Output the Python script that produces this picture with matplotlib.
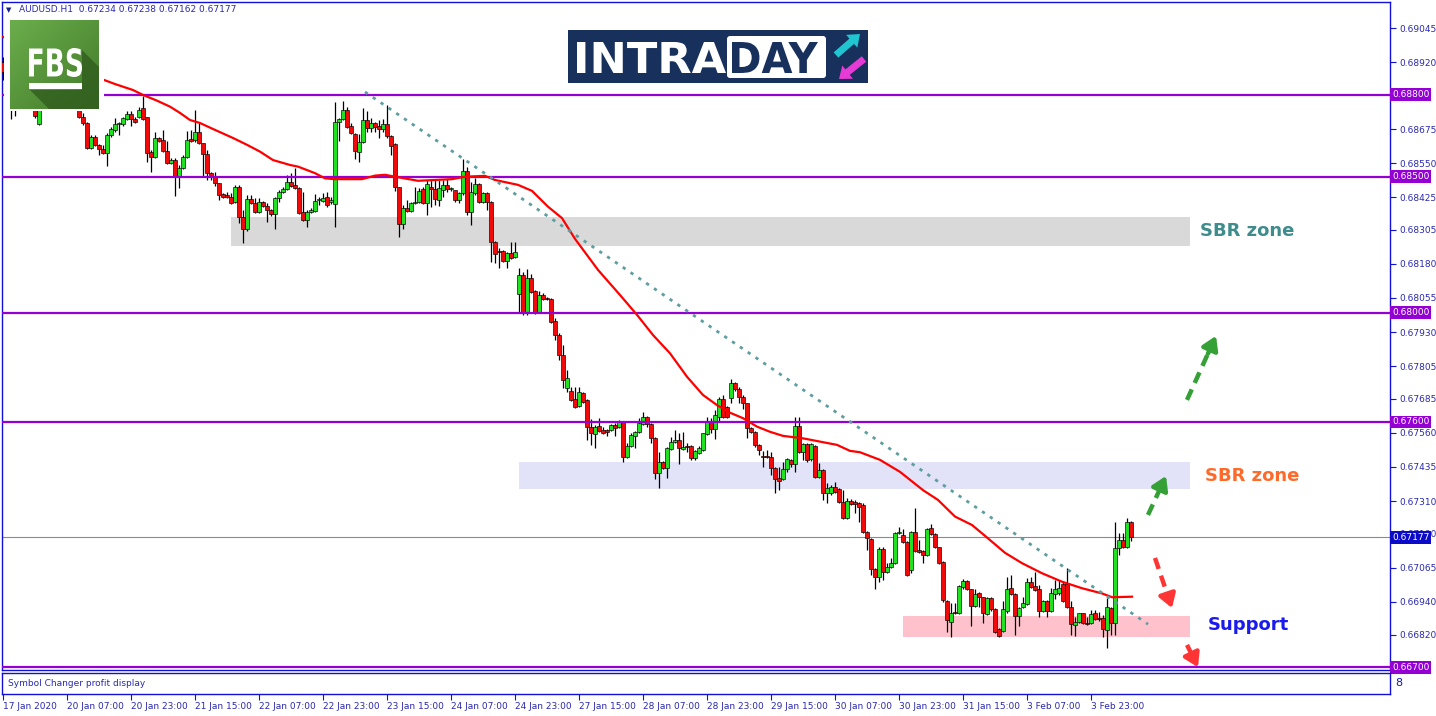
import numpy as np
import matplotlib
matplotlib.use("Agg")
import matplotlib.pyplot as plt
from matplotlib.patches import Rectangle, Polygon, FancyArrow, FancyBboxPatch, PathPatch
from matplotlib.textpath import TextPath
from matplotlib.font_manager import FontProperties
from matplotlib.transforms import Affine2D

plt.rcParams["font.family"] = ["DejaVu Sans"]

W, H = 1436, 716

# ---- data (AUDUSD H1) ----
symbol = "AUDUSD.H1"
last_ohlc = [0.67234, 0.67238, 0.67162, 0.67177]

opens = [
    .68921, .68892, .68863, .68782, .68800, .68826, .68807, .68786, .68767, .68693,
    .68767, .68789, .68775, .68796, .68811, .68792, .68807, .68786, .68764, .68767,
    .68719, .68697, .68606, .68646, .68617, .68602, .68587, .68654, .68672, .68693,
    .68693, .68712, .68730, .68712, .68719, .68753, .68719, .68591, .68572, .68642,
    .68635, .68594, .68550, .68561, .68499, .68532, .68572, .68639, .68635, .68665,
    .68624, .68583, .68514, .68503, .68477, .68436, .68433, .68426, .68407, .68462,
    .68352, .68308, .68418, .68404, .68371, .68407, .68393, .68378, .68363, .68422,
    .68444, .68455, .68481, .68470, .68459, .68371, .68341, .68371, .68374, .68415,
    .68411, .68426, .68407, .68400, .68701, .68712, .68745, .68686, .68657, .68591,
    .68628, .68708, .68679, .68697, .68686, .68675, .68693, .68650, .68620, .68462,
    .68327, .68385, .68374, .68404, .68407, .68455, .68404, .68462, .68455, .68415,
    .68451, .68470, .68455, .68451, .68415, .68440, .68521, .68371, .68440, .68473,
    .68407, .68440, .68407, .68261, .68227, .68227, .68191, .68220, .68205, .68070,
    .68140, .68000, .68128, .68081, .68004, .68066, .68055, .68051, .67971, .67919,
    .67846, .67725, .67714, .67684, .67659, .67706, .67681, .67582, .67556, .67585,
    .67571, .67571, .67571, .67589, .67582, .67600, .67472, .67512, .67549, .67563,
    .67593, .67618, .67593, .67541, .67413, .67453, .67431, .67501, .67527, .67534,
    .67501, .67512, .67512, .67468, .67486, .67497, .67556, .67600, .67574, .67618,
    .67684, .67655, .67688, .67743, .67721, .67692, .67670, .67578, .67563, .67516,
    .67475, .67475, .67472, .67431, .67395, .67391, .67428, .67461, .67446, .67585,
    .67490, .67519, .67464, .67512, .67398, .67424, .67340, .67340, .67361, .67354,
    .67306, .67248, .67310, .67306, .67303, .67295, .67196, .67171, .67061, .67031,
    .67134, .67050, .67068, .67083, .67193, .67185, .67160, .67057, .67196, .67130,
    .67127, .67112, .67211, .67189, .67141, .67086, .66943, .66866, .66903, .66899,
    .66995, .67017, .66987, .66925, .66973, .66958, .66895, .66954, .66914, .66840,
    .66833, .66906, .66991, .66969, .66888, .66921, .66932, .67013, .66998, .66987,
    .66906, .66943, .66906, .66969, .66973, .67006, .67006, .66921, .66855, .66866,
    .66899, .66862, .66862, .66899, .66881, .66881, .66837, .66917, .66862, .67138,
    .67167, .67141, .67234,
]
highs = [
    .68939, .68910, .68874, .68818, .68840, .68844, .68826, .68803, .68782, .68782,
    .68803, .68811, .68818, .68833, .68826, .68822, .68818, .68796, .68792, .68782,
    .68734, .68701, .68654, .68654, .68620, .68617, .68661, .68682, .68716, .68701,
    .68719, .68741, .68741, .68719, .68756, .68796, .68719, .68598, .68665, .68646,
    .68672, .68631, .68568, .68568, .68543, .68580, .68668, .68672, .68745, .68697,
    .68624, .68598, .68518, .68518, .68477, .68440, .68444, .68440, .68470, .68470,
    .68378, .68433, .68433, .68422, .68422, .68411, .68404, .68382, .68426, .68451,
    .68462, .68507, .68514, .68532, .68462, .68444, .68378, .68385, .68436, .68426,
    .68440, .68444, .68426, .68775, .68716, .68778, .68756, .68697, .68661, .68657,
    .68753, .68741, .68716, .68701, .68708, .68712, .68764, .68654, .68624, .68462,
    .68396, .68415, .68407, .68462, .68459, .68462, .68488, .68488, .68488, .68488,
    .68488, .68492, .68462, .68451, .68444, .68565, .68536, .68481, .68495, .68477,
    .68444, .68444, .68411, .68264, .68238, .68231, .68224, .68261, .68261, .68165,
    .68150, .68161, .68143, .68084, .68081, .68073, .68059, .68055, .67982, .67927,
    .67883, .67791, .67728, .67728, .67728, .67710, .67684, .67611, .67589, .67615,
    .67582, .67574, .67593, .67596, .67607, .67604, .67523, .67560, .67567, .67615,
    .67637, .67622, .67596, .67545, .67490, .67457, .67508, .67545, .67571, .67560,
    .67563, .67523, .67516, .67497, .67512, .67560, .67618, .67615, .67644, .67692,
    .67699, .67659, .67758, .67747, .67728, .67699, .67670, .67582, .67567, .67519,
    .67494, .67497, .67490, .67435, .67435, .67453, .67468, .67464, .67618, .67618,
    .67523, .67523, .67523, .67516, .67450, .67428, .67376, .67369, .67380, .67358,
    .67350, .67321, .67317, .67314, .67306, .67303, .67200, .67174, .67064, .67141,
    .67141, .67083, .67101, .67196, .67215, .67207, .67163, .67200, .67284, .67167,
    .67130, .67211, .67226, .67193, .67141, .67090, .66947, .66936, .66936, .67002,
    .67024, .67020, .66987, .66987, .66976, .66958, .66958, .66958, .66917, .66844,
    .66943, .67031, .67039, .66973, .66921, .66958, .67028, .67031, .67050, .67002,
    .66947, .66947, .66991, .67020, .67020, .67013, .67064, .66943, .66884, .66899,
    .66899, .66884, .66910, .66910, .66903, .66892, .66954, .66921, .67233, .67193,
    .67193, .67248, .67238,
]
lows = [
    .68855, .68837, .68712, .68723, .68782, .68789, .68767, .68753, .68716, .68690,
    .68753, .68760, .68764, .68782, .68778, .68771, .68767, .68753, .68749, .68716,
    .68690, .68602, .68602, .68613, .68580, .68583, .68539, .68646, .68665, .68654,
    .68686, .68708, .68686, .68697, .68716, .68708, .68554, .68518, .68569, .68628,
    .68591, .68546, .68546, .68429, .68459, .68528, .68569, .68628, .68628, .68620,
    .68499, .68488, .68488, .68466, .68415, .68422, .68422, .68400, .68404, .68330,
    .68257, .68301, .68400, .68367, .68367, .68389, .68334, .68356, .68308, .68407,
    .68440, .68451, .68462, .68455, .68363, .68337, .68316, .68367, .68371, .68396,
    .68407, .68389, .68400, .68316, .68631, .68708, .68679, .68657, .68565, .68554,
    .68624, .68665, .68665, .68665, .68642, .68665, .68642, .68580, .68448, .68279,
    .68308, .68371, .68371, .68400, .68404, .68400, .68360, .68389, .68396, .68393,
    .68426, .68444, .68448, .68407, .68404, .68433, .68360, .68323, .68433, .68404,
    .68404, .68378, .68187, .68183, .68165, .68187, .68165, .68198, .68202, .68000,
    .67993, .67993, .68073, .67996, .68000, .68048, .68048, .67963, .67901, .67828,
    .67725, .67710, .67677, .67651, .67655, .67670, .67534, .67516, .67505, .67563,
    .67556, .67549, .67567, .67549, .67578, .67453, .67468, .67508, .67505, .67560,
    .67589, .67582, .67523, .67391, .67358, .67428, .67395, .67497, .67523, .67446,
    .67497, .67490, .67461, .67461, .67483, .67494, .67552, .67560, .67538, .67600,
    .67615, .67615, .67670, .67714, .67670, .67648, .67541, .67560, .67508, .67479,
    .67435, .67468, .67406, .67340, .67350, .67387, .67417, .67435, .67417, .67486,
    .67461, .67453, .67457, .67395, .67395, .67314, .67303, .67332, .67340, .67303,
    .67244, .67244, .67295, .67266, .67233, .67193, .67130, .67039, .66987, .67013,
    .67020, .67046, .67064, .67079, .67189, .67156, .67035, .67046, .67123, .67119,
    .67083, .67108, .67185, .67138, .67079, .66940, .66829, .66811, .66895, .66895,
    .66987, .66984, .66851, .66921, .66921, .66862, .66892, .66906, .66826, .66811,
    .66829, .66899, .66965, .66818, .66851, .66917, .66929, .66991, .66980, .66884,
    .66903, .66884, .66903, .66951, .66965, .66940, .66917, .66818, .66815, .66862,
    .66859, .66855, .66859, .66873, .66870, .66811, .66771, .66818, .66818, .67112,
    .67138, .67138, .67162,
]
closes = [
    .68885, .68863, .68782, .68800, .68826, .68807, .68786, .68767, .68723, .68767,
    .68789, .68775, .68796, .68811, .68792, .68807, .68786, .68764, .68782, .68719,
    .68697, .68606, .68646, .68617, .68602, .68587, .68654, .68675, .68693, .68697,
    .68716, .68730, .68712, .68701, .68745, .68712, .68587, .68572, .68642, .68631,
    .68594, .68550, .68561, .68499, .68532, .68572, .68635, .68631, .68665, .68624,
    .68583, .68514, .68503, .68477, .68433, .68426, .68426, .68404, .68462, .68352,
    .68308, .68418, .68404, .68371, .68407, .68393, .68378, .68363, .68422, .68444,
    .68455, .68481, .68466, .68459, .68367, .68341, .68371, .68378, .68411, .68418,
    .68422, .68396, .68415, .68701, .68712, .68745, .68682, .68661, .68594, .68628,
    .68708, .68679, .68697, .68682, .68675, .68693, .68650, .68613, .68462, .68327,
    .68385, .68374, .68404, .68407, .68448, .68404, .68473, .68455, .68418, .68459,
    .68470, .68455, .68457, .68415, .68440, .68521, .68371, .68444, .68473, .68407,
    .68440, .68407, .68261, .68216, .68224, .68191, .68220, .68202, .68224, .68140,
    .68000, .68128, .68077, .68000, .68066, .68051, .68051, .67967, .67919, .67846,
    .67754, .67762, .67681, .67655, .67710, .67673, .67582, .67560, .67582, .67567,
    .67560, .67563, .67589, .67578, .67600, .67472, .67512, .67552, .67563, .67596,
    .67618, .67593, .67541, .67413, .67453, .67431, .67505, .67527, .67534, .67505,
    .67508, .67508, .67468, .67494, .67505, .67560, .67600, .67574, .67626, .67684,
    .67618, .67618, .67743, .67721, .67692, .67670, .67578, .67563, .67516, .67497,
    .67472, .67472, .67431, .67391, .67384, .67428, .67464, .67446, .67585, .67490,
    .67519, .67461, .67519, .67398, .67424, .67340, .67358, .67361, .67343, .67306,
    .67248, .67310, .67299, .67299, .67288, .67196, .67174, .67061, .67031, .67134,
    .67050, .67068, .67083, .67193, .67196, .67160, .67039, .67196, .67127, .67123,
    .67112, .67207, .67189, .67141, .67083, .66947, .66873, .66899, .66899, .66998,
    .67017, .66987, .66925, .66969, .66958, .66899, .66954, .66914, .66829, .66815,
    .66914, .66987, .66969, .66888, .66917, .66936, .67013, .66995, .66984, .66906,
    .66943, .66906, .66973, .66987, .66991, .66943, .66921, .66859, .66866, .66899,
    .66862, .66859, .66895, .66877, .66877, .66840, .66921, .66862, .67138, .67167,
    .67141, .67233, .67177,
]

# moving average, read at a set of bar positions
ma_x = [0, 25.25, 28, 32.5, 35, 38.5, 41.75, 44.25, 46.75, 49.25, 52.5, 57.5, 61,
        64.25, 67.5, 71.75, 73.75, 78, 80.5, 83, 89.75, 93, 95.5, 98, 103.75,
        112.25, 115.5, 120.5, 123, 128.75, 132.25, 136.25, 139.75, 143, 148.75,
        154.25, 158.5, 162.5, 166.75, 171, 175, 178.5, 181.75, 185, 188.5, 191.75,
        195, 200, 204.25, 208.5, 211.75, 214.25, 219.25, 224.25, 230, 233.75, 238,
        242.25, 246.25, 250.5, 254.75, 259.75, 264.75, 269.75, 274.75, 277.25, 282.25]
ma_y = [.69013, .68855, .68840, .68818, .68800, .68779, .68757, .68734, .68708,
        .68697, .68675, .68642, .68617, .68592, .68561, .68543, .68537, .68513,
        .68494, .68491, .68491, .68504, .68507, .68500, .68485, .68491, .68500,
        .68503, .68488, .68470, .68448, .68390, .68348, .68272, .68158, .68066,
        .67993, .67919, .67852, .67766, .67699, .67662, .67634, .67614, .67583,
        .67564, .67549, .67540, .67528, .67516, .67494, .67489, .67461, .67417,
        .67350, .67314, .67253, .67222, .67173, .67120, .67082, .67045, .67014,
        .66990, .66971, .66957, .66959]

levels = [0.68800, 0.68500, 0.68000, 0.67600, 0.66700]
tick_vals = [0.69045, 0.68920, 0.68675, 0.68550, 0.68425, 0.68305, 0.68180, 0.68055,
             0.67930, 0.67805, 0.67685, 0.67560, 0.67435, 0.67310, 0.67190, 0.67065,
             0.66940, 0.66820]

time_ticks = [0, 16, 32, 48, 64, 80, 96, 112, 128, 144, 160, 176, 192, 208, 224, 240, 256, 272]
time_labels = ["17 Jan 2020", "20 Jan 07:00", "20 Jan 23:00", "21 Jan 15:00", "22 Jan 07:00",
               "22 Jan 23:00", "23 Jan 15:00", "24 Jan 07:00", "24 Jan 23:00", "27 Jan 15:00",
               "28 Jan 07:00", "28 Jan 23:00", "29 Jan 15:00", "30 Jan 07:00", "30 Jan 23:00",
               "31 Jan 15:00", "3 Feb 07:00", "3 Feb 23:00"]

# trend line and zones (bar index, price)
trend_x = [90.5, 286.25]
trend_y = [0.68811, 0.66858]

zone_x0 = [57, 129, 225]
zone_x1 = [296.75, 296.75, 296.75]
zone_lo = [0.68246, 0.67354, 0.66811]
zone_hi = [0.68352, 0.67453, 0.66888]
zone_colors = ["#d9d9d9", "#e2e2f8", "#ffc2cc"]

notes = ["SBR zone", "SBR zone", "Support"]
note_x = [299.25, 300.5, 301.25]
note_y = [0.68301, 0.67402, 0.66855]
note_colors = ["#3f8c8c", "#ff6a2a", "#1a1aee"]

# scenario arrows: tail bar, tail price, head bar, head price
arrow_x0 = [296, 286.25, 288, 296]
arrow_y0 = [0.67681, 0.67259, 0.67101, 0.66782]
arrow_x1 = [303.25, 290.75, 292.25, 298.75]
arrow_y1 = [0.67916, 0.67402, 0.66917, 0.66700]
arrow_colors = ["#35a035", "#35a035", "#ff3535", "#ff3535"]

# ---- styling ----
frame = "#1010d8"
txt = "#2a2ab0"
purple = "#9400d3"
bull = "#22e022"
bear = "#f00a0a"

fig = plt.figure(figsize=(W / 100, H / 100), dpi=100)


def frac(l, t, r, b):
    return [l / W, 1 - b / H, (r - l) / W, (b - t) / H]


ax = fig.add_axes(frac(2, 2, 1390, 670))
sub = fig.add_axes(frac(2, 673, 1390, 694), sharex=ax)
ax.set_xlim(-0.25, 346.75)
ax.set_ylim(0.66690, 0.69141)

for a in (ax, sub):
    for s in a.spines.values():
        s.set_color(frame)
        s.set_linewidth(1.0)

# zones
for x0, x1, lo, hi, c in zip(zone_x0, zone_x1, zone_lo, zone_hi, zone_colors):
    ax.add_patch(Rectangle((x0, lo), x1 - x0, hi - lo, color=c, lw=0, zorder=0.5))

# candles
o = np.array(opens)
c = np.array(closes)
hi_ = np.array(highs)
lo_ = np.array(lows)
idx = np.arange(len(o))
up = c >= o
ax.vlines(idx, lo_, hi_, color="black", lw=0.9, zorder=3)
ax.bar(idx[up], (c - o)[up], bottom=o[up], width=0.82, color=bull,
       edgecolor="black", linewidth=0.45, zorder=4)
ax.bar(idx[~up], (o - c)[~up], bottom=c[~up], width=0.82, color=bear,
       edgecolor="black", linewidth=0.45, zorder=4)

# horizontal levels and current price
for lv in levels:
    ax.axhline(lv, color=purple, lw=1.6, zorder=5)
ax.axhline(last_ohlc[3], color="#8a8a8a", lw=0.8, zorder=2)

# moving average and trend line
ax.plot(ma_x, ma_y, color="red", lw=1.6, zorder=6)
ax.plot(trend_x, trend_y, color="#5f9ea0", lw=2.0, ls=(0, (1.2, 2.2)), zorder=6)

# notes
for s, x, y, col in zip(notes, note_x, note_y, note_colors):
    ax.text(x, y, s, color=col, fontsize=13, fontweight="bold", va="center", ha="left", zorder=7)

# dashed arrows
for x0, y0, x1, y1, col in zip(arrow_x0, arrow_y0, arrow_x1, arrow_y1, arrow_colors):
    xm = x0 + 0.72 * (x1 - x0)
    ym = y0 + 0.72 * (y1 - y0)
    ax.plot([x0, xm], [y0, ym], color=col, lw=3.2, ls=(0, (2.6, 1.6)), solid_capstyle="butt",
            zorder=7)
    ax.annotate("", xy=(x1, y1), xytext=(xm, ym),
                arrowprops=dict(arrowstyle="-|>,head_length=0.8,head_width=0.5", color=col,
                                lw=3.2, shrinkA=0, shrinkB=0), zorder=7)

# right price scale
ax.yaxis.tick_right()
ax.set_yticks(tick_vals)
ax.set_yticklabels([f"{v:.5f}" for v in tick_vals])
ax.tick_params(axis="y", direction="out", length=4, width=0.8, color=frame,
               labelcolor=txt, labelsize=6.5, pad=3)
ax.tick_params(axis="x", bottom=False, labelbottom=False)

for lv in levels:
    ax.annotate(f"{lv:.5f}", xy=(1, lv), xycoords=ax.get_yaxis_transform(),
                xytext=(1.5, 0), textcoords="offset points", va="center", ha="left",
                color="white", fontsize=6.5, annotation_clip=False, zorder=8,
                bbox=dict(boxstyle="square,pad=0.22", fc=purple, ec="none"))
ax.annotate(f"{last_ohlc[3]:.5f}", xy=(1, last_ohlc[3]), xycoords=ax.get_yaxis_transform(),
            xytext=(1.5, 0), textcoords="offset points", va="center", ha="left",
            color="white", fontsize=6.5, annotation_clip=False, zorder=8,
            bbox=dict(boxstyle="square,pad=0.22", fc="#0a0ac8", ec="none"))

# sub window + time axis
sub.set_yticks([])
sub.set_xticks(time_ticks)
sub.set_xticklabels(time_labels, ha="left")
sub.tick_params(axis="x", direction="out", length=4, width=0.8, color=frame,
                labelcolor=txt, labelsize=6.5, pad=2)
sub.text(0.004, 0.5, "Symbol Changer profit display", transform=sub.transAxes,
         color=txt, fontsize=6.5, va="center")
sub.text(1.004, 0.5, "8", transform=sub.transAxes, color=frame, fontsize=8,
         va="center", ha="left")

# ---- overlay in pixel space: header, logos ----
ov = fig.add_axes([0, 0, 1, 1])
ov.set_xlim(0, W)
ov.set_ylim(H, 0)
ov.axis("off")
ov.set_zorder(10)

header = symbol + "  " + " ".join(f"{v:.5f}" for v in last_ohlc)
ov.text(6, 10, "\u25bc", color="#1a1a90", fontsize=5, va="center")
ov.text(19, 10, header, color=txt, fontsize=6.5, va="center")


def fit_text(s, box, color):
    x0, y0, x1, y1 = box
    tp = TextPath((0, 0), s, size=50, prop=FontProperties(family="DejaVu Sans", weight="bold"))
    bb = tp.get_extents()
    tr = Affine2D().translate(-bb.x0, -bb.y0).scale((x1 - x0) / bb.width,
                                                      -(y1 - y0) / bb.height).translate(x0, y1)
    ov.add_patch(PathPatch(tr.transform_path(tp), fc=color, ec="none", lw=0, zorder=3))


# FBS logo
ov.add_patch(Rectangle((4, 14), 100, 97, color="white", lw=0))
grad = np.linspace(0, 1, 64)
gx, gy = np.meshgrid(grad, grad)
g = (gx + gy) / 2
rgb = np.dstack([0.42 - 0.16 * g, 0.68 - 0.20 * g, 0.30 - 0.14 * g])
ov.imshow(rgb, extent=(10, 99, 109, 20), zorder=1, aspect="auto")
ov.add_patch(Polygon([(82, 50), (99, 67), (99, 109), (49, 109), (30, 90), (82, 90)],
                     closed=True, color="#2f5a1d", alpha=0.75, lw=0, zorder=2))
fit_text("FBS", (29, 48, 82, 77), "white")
ov.add_patch(Rectangle((29, 83), 53, 6, color="white", lw=0, zorder=3))

# INTRADAY logo
ov.add_patch(Rectangle((568, 30), 300, 53, color="#17305c", lw=0))
fit_text("INTRA", (577, 42, 726, 73), "white")
ov.add_patch(FancyBboxPatch((727, 36), 99, 42, boxstyle="round,pad=0,rounding_size=3",
                            fc="white", ec="none", zorder=2))
fit_text("DAY", (732, 42, 818, 73), "#17305c")
ov.add_patch(FancyArrow(836, 55, 24, -21, width=7, head_width=17, head_length=11,
                        length_includes_head=True, color="#1fc6d2", lw=0))
ov.add_patch(FancyArrow(864, 59, -25, 20, width=7, head_width=17, head_length=11,
                        length_includes_head=True, color="#e63bd4", lw=0))

fig.savefig("out.png", dpi=100)
